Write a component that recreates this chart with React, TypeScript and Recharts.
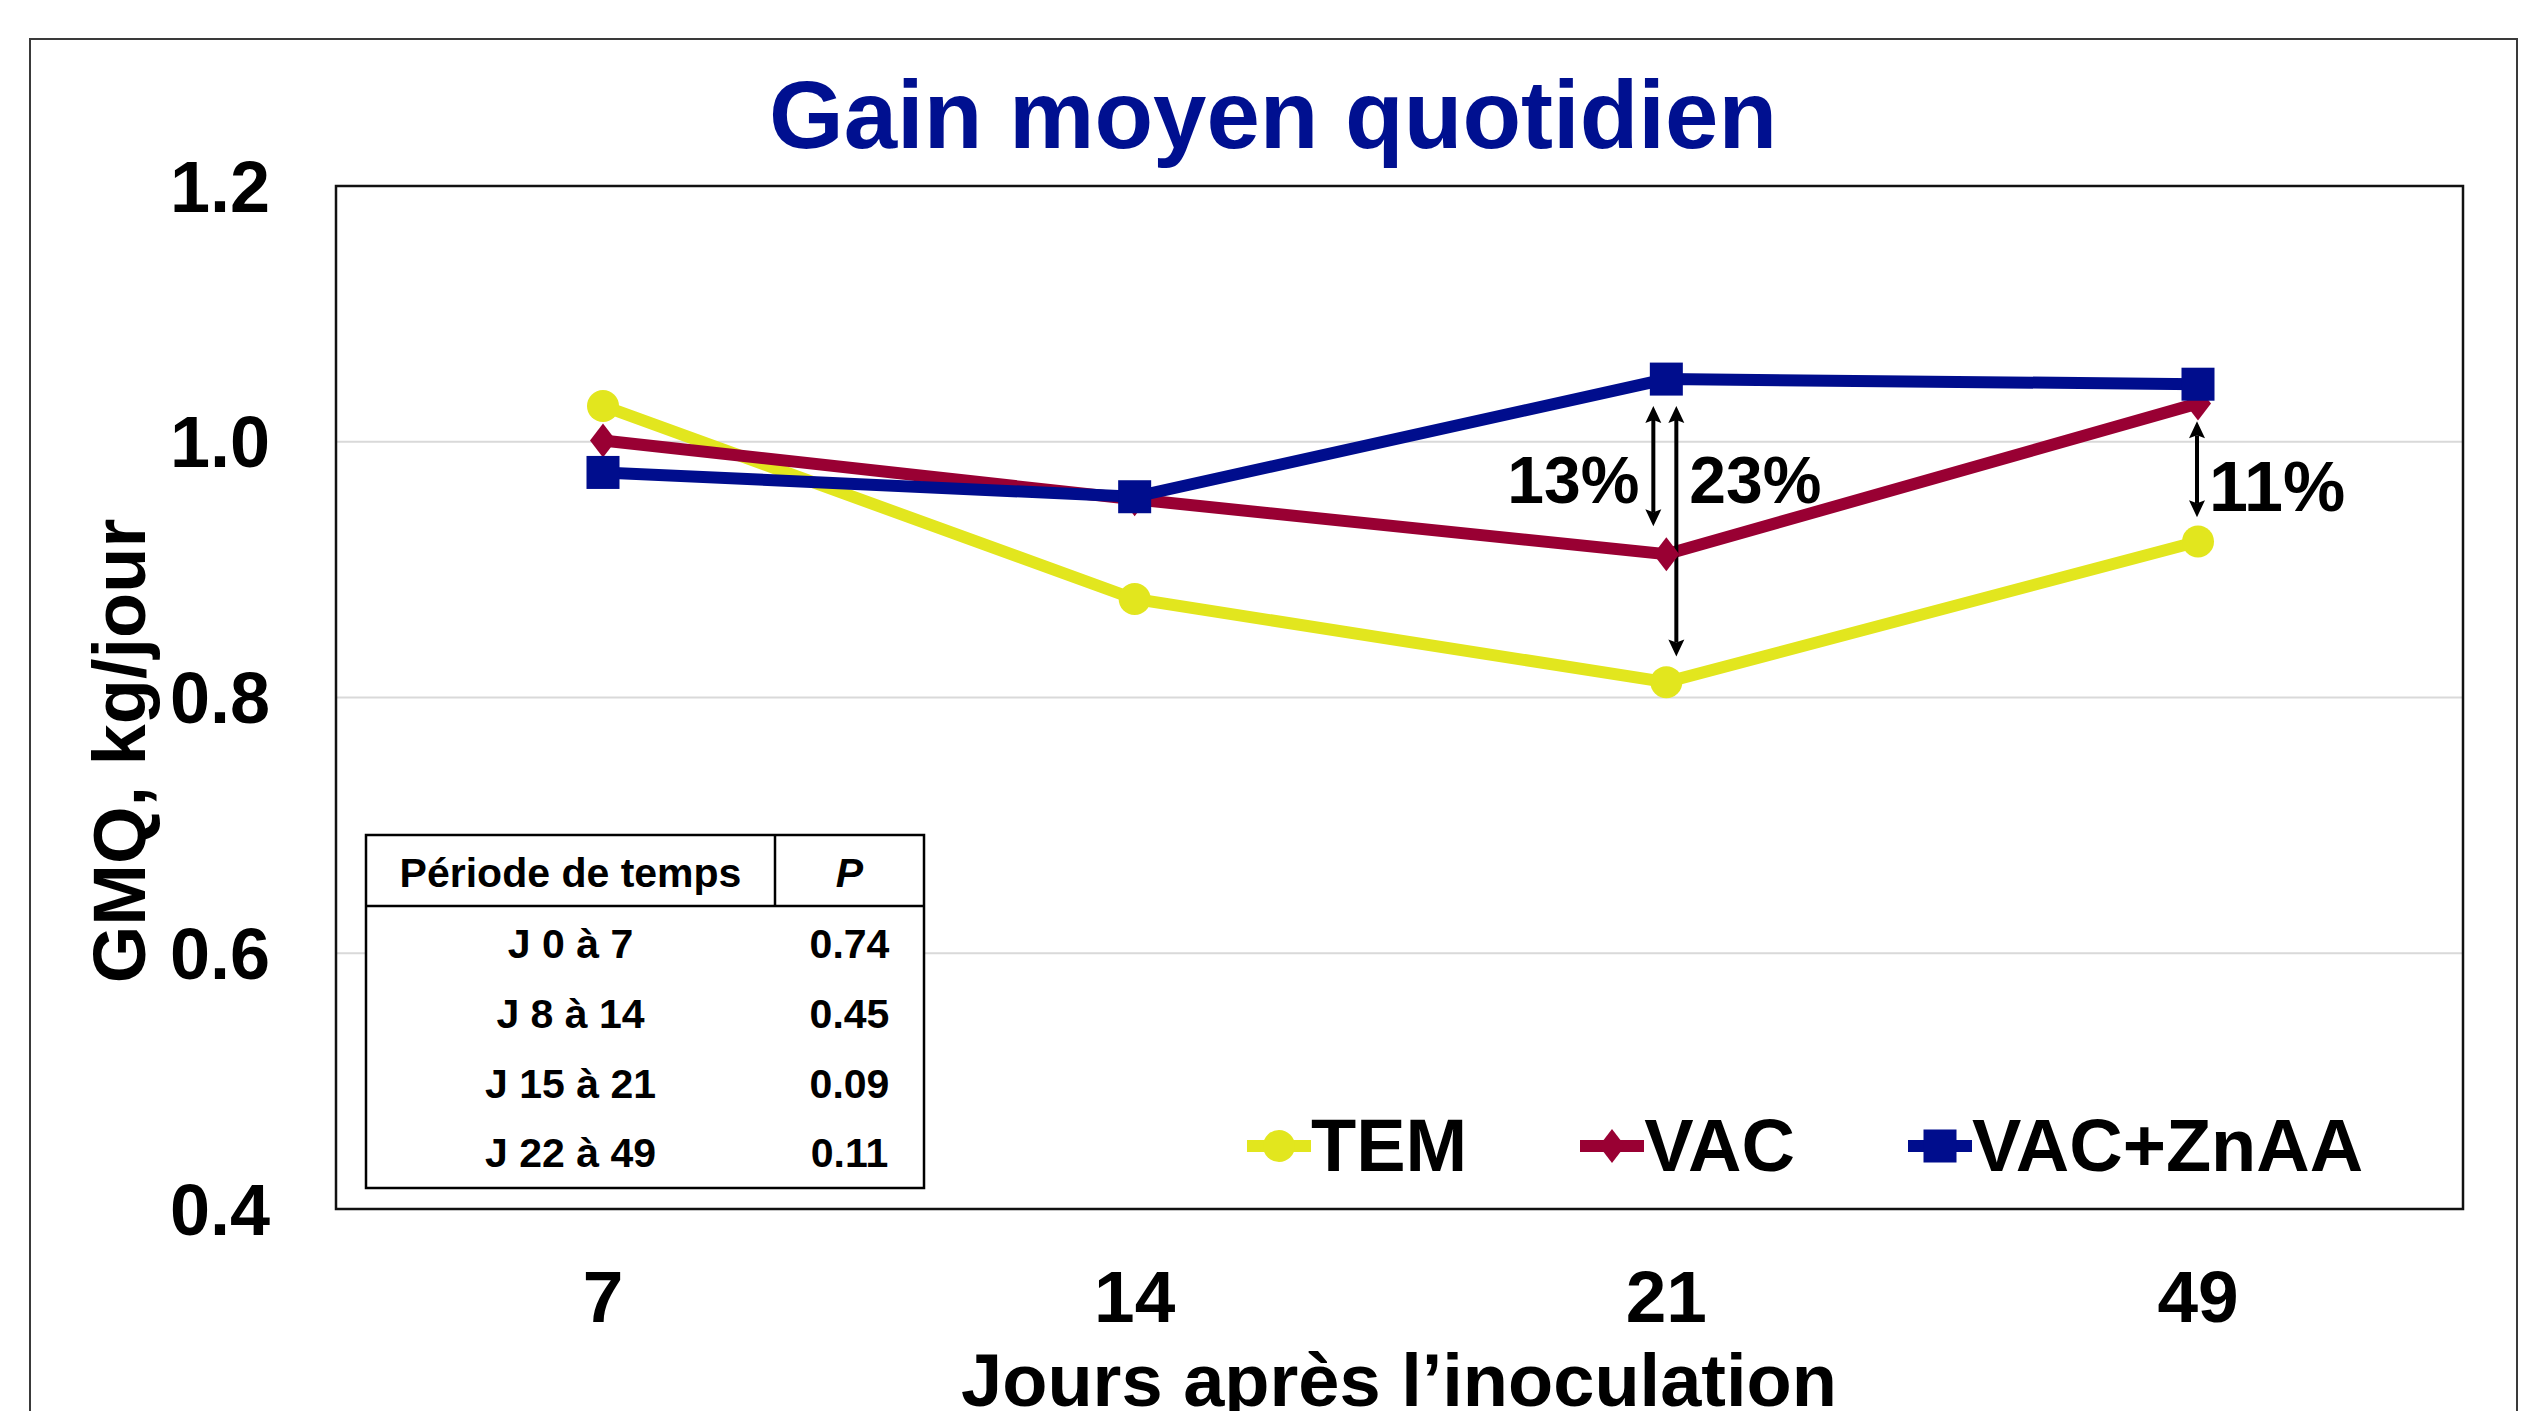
import React from 'react';
import {
  LineChart,
  Line,
  XAxis,
  YAxis,
  CartesianGrid,
  Legend,
  ReferenceLine,
  ReferenceDot,
} from 'recharts';

// ---------- data ----------
const days = ['7', '14', '21', '49'];
const temValues = [1.028, 0.877, 0.812, 0.922];
const vacValues = [1.001, 0.955, 0.912, 1.03];
const vacZnValues = [0.976, 0.957, 1.049, 1.045];
const yTicks = [0.4, 0.6, 0.8, 1.0, 1.2];

const periods = ['J 0 à 7', 'J 8 à 14', 'J 15 à 21', 'J 22 à 49'];
const pValues = ['0.74', '0.45', '0.09', '0.11'];

const diffDays = ['21', '21', '49'];
const diffTop = [1.028, 1.028, 1.016];
const diffBottom = [0.934, 0.832, 0.941];
const diffLabels = ['13%', '23%', '11%'];
const diffLabelLevel = [0.952, 0.952, 0.946];

// ---------- styling ----------
const FONT = '"Liberation Sans", Arial, Helvetica, sans-serif';
const W = 2534;
const H = 1411;
const PLOT = { left: 336, top: 186, right: 2463, bottom: 1209 };

const series = [
  { key: 'tem', name: 'TEM', color: '#E2E61E', shape: 'circle', values: temValues },
  { key: 'vac', name: 'VAC', color: '#990033', shape: 'diamond', values: vacValues },
  { key: 'vacZn', name: 'VAC+ZnAA', color: '#000D8D', shape: 'square', values: vacZnValues },
];

const data = days.map((d, i) => {
  const row: Record<string, any> = { day: d };
  series.forEach((s) => {
    row[s.key] = s.values[i];
  });
  return row;
});

// arrow horizontal offsets / label offsets (style)
const arrowDx = [-13, 10, -1];
const labelDx = [-27, 23, 11];
const labelAnchor = ['end', 'start', 'start'];
const labelSize = [66, 66, 70];

function markerPath(shape: string, cx: number, cy: number, color: string, key?: string) {
  if (shape === 'circle') return <circle key={key} cx={cx} cy={cy} r={16} fill={color} />;
  if (shape === 'square')
    return <rect key={key} x={cx - 16.5} y={cy - 16.5} width={33} height={33} fill={color} />;
  return (
    <path
      key={key}
      d={`M${cx},${cy - 17} L${cx + 13},${cy} L${cx},${cy + 17} L${cx - 13},${cy} Z`}
      fill={color}
    />
  );
}

const makeDot = (shape: string, color: string) => (props: any) => {
  const { cx, cy, index } = props;
  if (cx == null || cy == null) return <g key={`e-${shape}-${index}`} />;
  return markerPath(shape, cx, cy, color, `d-${shape}-${index}`);
};

const makeArrow = (dx: number) => (props: any) => {
  const { x1, y1, y2 } = props;
  const x = x1 + dx;
  const top = Math.min(y1, y2);
  const bot = Math.max(y1, y2);
  const hl = 17;
  const hw = 8;
  const back = 3;
  return (
    <g>
      <line x1={x} y1={top + hl - back} x2={x} y2={bot - hl + back} stroke="#000" strokeWidth={4} />
      <path
        d={`M${x},${top} L${x + hw},${top + hl} L${x},${top + hl - back} L${x - hw},${top + hl} Z`}
        fill="#000"
      />
      <path
        d={`M${x},${bot} L${x + hw},${bot - hl} L${x},${bot - hl + back} L${x - hw},${bot - hl} Z`}
        fill="#000"
      />
    </g>
  );
};

const makeLabel = (i: number) => (props: any) => {
  const { cx, cy } = props;
  return (
    <text
      x={cx + labelDx[i]}
      y={cy}
      textAnchor={labelAnchor[i] as any}
      fontFamily={FONT}
      fontWeight={700}
      fontSize={labelSize[i]}
      fill="#000"
    >
      {diffLabels[i]}
    </text>
  );
};

const renderLegend = (props: any) => {
  const payload = props.payload || [];
  return (
    <div style={{ display: 'flex', alignItems: 'center', height: 80 }}>
      {payload.map((entry: any, i: number) => {
        const s = series.find((x) => x.key === entry.dataKey) || series[i];
        return (
          <div
            key={s.key}
            style={{ display: 'flex', alignItems: 'center', marginRight: i < payload.length - 1 ? 113 : 0 }}
          >
            <svg width={64} height={40} style={{ display: 'block' }}>
              <line x1={0} y1={20} x2={64} y2={20} stroke={s.color} strokeWidth={12} />
              {markerPath(s.shape, 32, 20, s.color)}
            </svg>
            <span
              style={{
                fontFamily: FONT,
                fontWeight: 700,
                fontSize: 74,
                lineHeight: 1,
                color: '#000',
                whiteSpace: 'nowrap',
              }}
            >
              {entry.value}
            </span>
          </div>
        );
      })}
    </div>
  );
};

function Overlay() {
  const tbl = { left: 366, right: 924, top: 835, bottom: 1188, head: 906, div: 775 };
  const rowBase = [958, 1028, 1098, 1167];
  const c1 = (tbl.left + tbl.div) / 2;
  const c2 = (tbl.div + tbl.right) / 2;
  return (
    <svg
      width={W}
      height={H}
      style={{ position: 'absolute', left: 0, top: 0, pointerEvents: 'none' }}
    >
      {/* outer frame */}
      <rect x={30} y={39} width={2487} height={1500} fill="none" stroke="#3a3a3a" strokeWidth={2} />
      {/* plot border */}
      <rect
        x={PLOT.left}
        y={PLOT.top}
        width={PLOT.right - PLOT.left}
        height={PLOT.bottom - PLOT.top}
        fill="none"
        stroke="#111"
        strokeWidth={2.5}
      />
      {/* title */}
      <text x={1273} y={148} textAnchor="middle" fontFamily={FONT} fontWeight={700} fontSize={96} fill="#001090">
        Gain moyen quotidien
      </text>
      {/* y axis title */}
      <text
        x={145}
        y={751}
        transform="rotate(-90, 145, 751)"
        textAnchor="middle"
        fontFamily={FONT}
        fontWeight={700}
        fontSize={74}
        fill="#000"
      >
        GMQ, kg/jour
      </text>
      {/* x axis title */}
      <text x={1399} y={1406} textAnchor="middle" fontFamily={FONT} fontWeight={700} fontSize={74} fill="#000">
        Jours après l’inoculation
      </text>
      {/* table */}
      <rect
        x={tbl.left}
        y={tbl.top}
        width={tbl.right - tbl.left}
        height={tbl.bottom - tbl.top}
        fill="#fff"
        stroke="#000"
        strokeWidth={2.5}
      />
      <line x1={tbl.left} y1={tbl.head} x2={tbl.right} y2={tbl.head} stroke="#000" strokeWidth={2.5} />
      <line x1={tbl.div} y1={tbl.top} x2={tbl.div} y2={tbl.head} stroke="#000" strokeWidth={2.5} />
      <text x={c1} y={887} textAnchor="middle" fontFamily={FONT} fontWeight={700} fontSize={41} fill="#000">
        Période de temps
      </text>
      <text
        x={c2}
        y={887}
        textAnchor="middle"
        fontFamily={FONT}
        fontWeight={700}
        fontStyle="italic"
        fontSize={41}
        fill="#000"
      >
        P
      </text>
      {periods.map((p, i) => (
        <text key={p} x={c1} y={rowBase[i]} textAnchor="middle" fontFamily={FONT} fontWeight={700} fontSize={41} fill="#000">
          {p}
        </text>
      ))}
      {pValues.map((v, i) => (
        <text key={`pv-${i}`} x={c2} y={rowBase[i]} textAnchor="middle" fontFamily={FONT} fontWeight={700} fontSize={41} fill="#000">
          {v}
        </text>
      ))}
    </svg>
  );
}

export default function App() {
  return (
    <div style={{ position: 'absolute', left: 0, top: 0, width: W, height: H, background: '#fff', fontFamily: FONT }}>
      <LineChart
        width={W}
        height={H}
        data={data}
        margin={{ top: PLOT.top, right: W - PLOT.right, bottom: 102, left: 36 }}
      >
        <CartesianGrid vertical={false} stroke="#D9D9D9" strokeWidth={2} />
        <XAxis
          dataKey="day"
          height={100}
          axisLine={false}
          tickLine={false}
          tickSize={0}
          tickMargin={61}
          padding={{ left: 267, right: 265 }}
          tick={{ fontSize: 73, fontWeight: 700, fill: '#000', fontFamily: FONT }}
          interval={0}
        />
        <YAxis
          domain={[0.4, 1.2]}
          ticks={yTicks}
          width={300}
          axisLine={false}
          tickLine={false}
          tickSize={0}
          tickMargin={66}
          tickFormatter={(v: number) => v.toFixed(1)}
          tick={{ fontSize: 72, fontWeight: 700, fill: '#000', fontFamily: FONT }}
          allowDataOverflow
        />
        {series.map((s) => (
          <Line
            key={s.key}
            dataKey={s.key}
            name={s.name}
            stroke={s.color}
            strokeWidth={12}
            type="linear"
            dot={makeDot(s.shape, s.color)}
            activeDot={false}
            isAnimationActive={false}
          />
        ))}
        {diffDays.map((d, i) => (
          <ReferenceLine
            key={`arr-${i}`}
            segment={[
              { x: d, y: diffTop[i] },
              { x: d, y: diffBottom[i] },
            ]}
            shape={makeArrow(arrowDx[i])}
            ifOverflow="visible"
          />
        ))}
        {diffDays.map((d, i) => (
          <ReferenceDot
            key={`lab-${i}`}
            x={d}
            y={diffLabelLevel[i]}
            r={0}
            shape={makeLabel(i)}
            ifOverflow="visible"
          />
        ))}
        <Legend
          layout="horizontal"
          verticalAlign="middle"
          align="center"
          content={renderLegend}
          wrapperStyle={{ left: 1247, top: 1106, right: 'auto', bottom: 'auto', width: 1250 }}
        />
      </LineChart>
      <Overlay />
    </div>
  );
}
